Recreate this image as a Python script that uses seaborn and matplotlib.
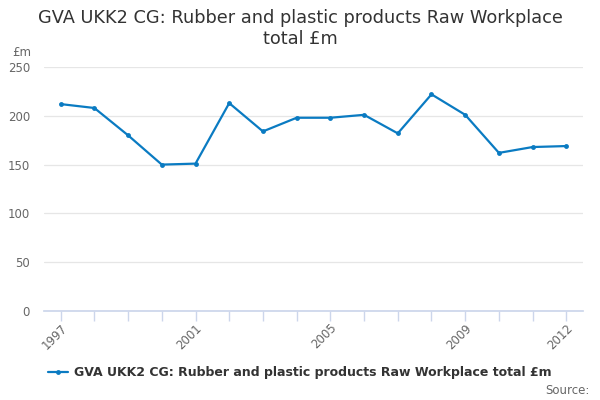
import matplotlib
matplotlib.use("Agg")
import matplotlib.pyplot as plt
import seaborn as sns
import pandas as pd

# values
years = list(range(1997, 2013))
gva = [212, 208, 180, 150, 151, 213, 184, 198, 198, 201, 182, 222, 201, 162, 168, 169]
tick_years = [1997, 2001, 2005, 2009, 2012]
series_name = "GVA UKK2 CG: Rubber and plastic products Raw Workplace total £m"

df = pd.DataFrame({"year": years, "value": gva})

sns.set_theme(style="white")
plt.rcParams["font.family"] = ["DejaVu Sans"]

fig = plt.figure(figsize=(6, 4), dpi=100)
ax = fig.add_axes([0.073, 0.2225, 0.899, 0.61])

sns.lineplot(data=df, x="year", y="value", ax=ax, color="#0a7bc2", linewidth=1.6,
             marker="o", markersize=3.5, markeredgewidth=0, label=series_name, legend=False)

ax.set_xlim(1996.5, 2012.5)
ax.set_ylim(0, 250)
ax.set_yticks([0, 50, 100, 150, 200, 250])
ax.yaxis.grid(True, color="#e6e6e6", linewidth=0.9)
ax.set_axisbelow(True)

ax.set_xticks(years, minor=True)
ax.set_xticks(tick_years)
ax.set_xticklabels([str(y) for y in tick_years], rotation=45, ha="right",
                   rotation_mode="anchor", color="#666666", fontsize=8.5)
ax.tick_params(axis="x", which="both", direction="out", length=7, width=1,
               color="#ccd6eb", bottom=True, pad=0.5)
ax.tick_params(axis="y", length=0, labelcolor="#666666", labelsize=8.5, pad=10)

for side in ["top", "right", "left"]:
    ax.spines[side].set_visible(False)
ax.spines["bottom"].set_color("#ccd6eb")
ax.set_xlabel("")
ax.set_ylabel("")

fig.text(0.5, 0.928, "GVA UKK2 CG: Rubber and plastic products Raw Workplace\ntotal £m",
         ha="center", va="center", fontsize=12.8, color="#333333", linespacing=1.2)
fig.text(0.02, 0.87, "£m", fontsize=8.5, color="#666666", va="center")

handle = ax.get_lines()[0]
fig.legend([handle], [series_name], loc="center", bbox_to_anchor=(0.5, 0.068),
           frameon=False, prop={"weight": "bold", "size": 9}, handlelength=1.6,
           handletextpad=0.5, labelcolor="#333333")
fig.text(0.982, 0.025, "Source:", ha="right", va="center", fontsize=8.5, color="#666666")

fig.savefig("out.png", dpi=100)
